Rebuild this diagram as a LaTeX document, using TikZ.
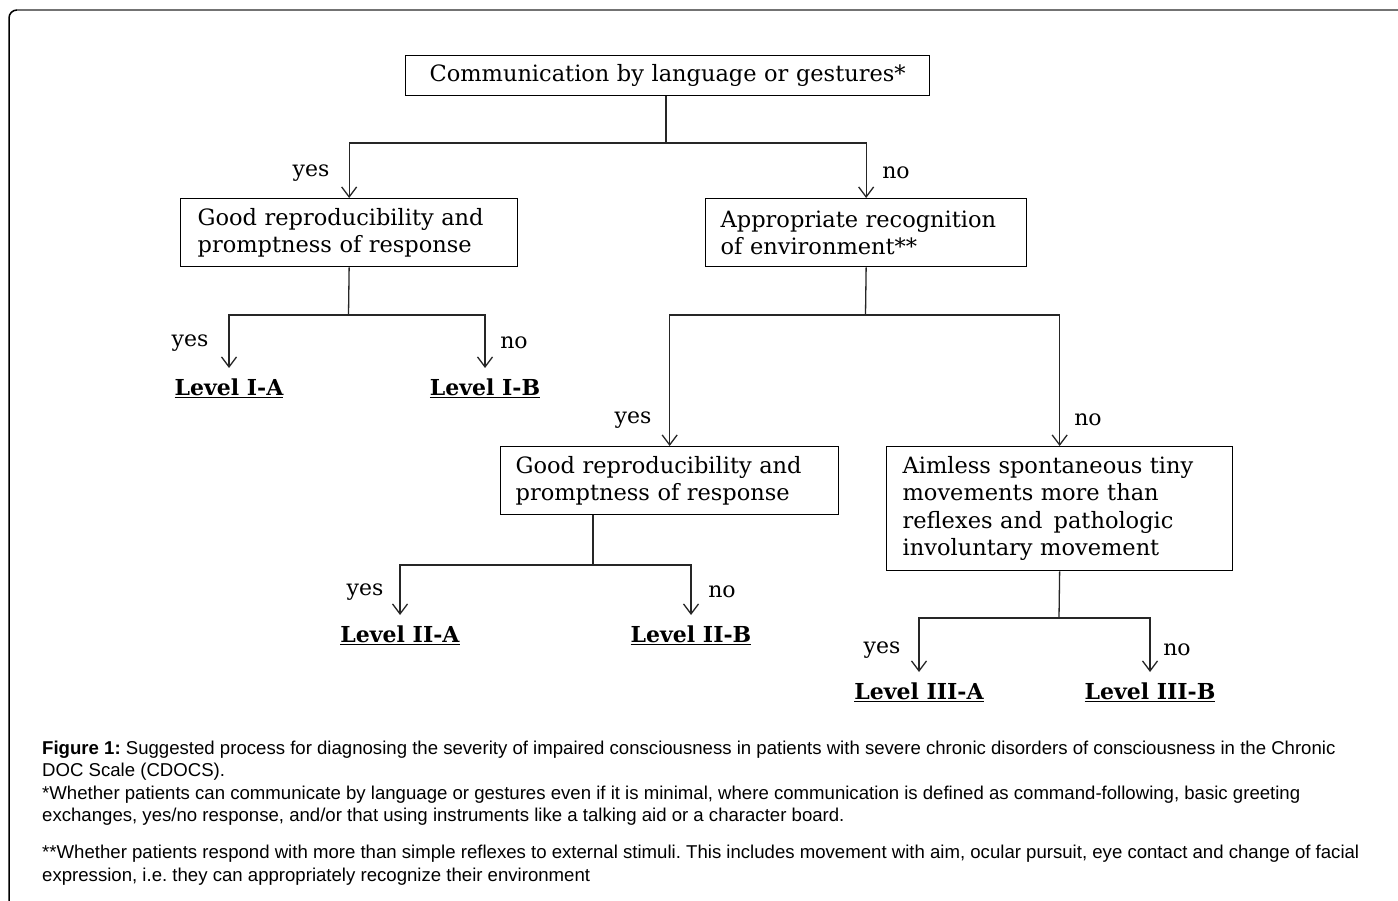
\documentclass[tikz,border=0pt]{standalone}
\usepackage{fontspec}
\setmainfont{DejaVu Serif}
\newfontfamily\capfont{Liberation Sans}
\usetikzlibrary{arrows.meta,calc}
\frenchspacing
\tikzset{
  box/.style={draw=black, line width=1.3pt, anchor=north west, align=left,
    font=\fontsize{22.5}{27.5}\selectfont, inner ysep=0pt},
  conn/.style={draw=black!85, line width=1.3pt},
  arr/.style={conn, -{Straight Barb[length=10pt,width=15pt,line width=1.3pt]}},
  lab/.style={font=\fontsize{22}{24}\selectfont, inner sep=0pt},
  level/.style={font=\bfseries\fontsize{22}{24}\selectfont, anchor=north, inner xsep=0pt, inner ysep=0pt, outer xsep=0pt, outer ysep=11pt}
}
\begin{document}
\begin{tikzpicture}[x=1pt,y=-1pt]
\fill[white] (0,0) rectangle (1398,901);
\useasboundingbox (0,0) rectangle (1398,901);
% frame
\draw[line width=1.5pt, black, rounded corners=8pt] (9,901) |- (60,10);
\draw[line width=2pt, black!55] (17,10) -- (1398,10);

% boxes
\node[box, align=center, minimum width=524pt, minimum height=40pt, text width=500pt] (b1) at (405,55) {Communication by language or gestures*};
\node[box, minimum width=337pt, minimum height=68pt, inner xsep=17pt, text width=303pt] (b2) at (180,198) {\mbox{Good reproducibility and}\\\mbox{promptness of response}};
\node[box, minimum width=321pt, minimum height=68pt, inner xsep=15pt, text width=291pt] (b3) at (705,198) {\mbox{Appropriate recognition}\\\mbox{of environment**}};
\node[box, minimum width=338pt, minimum height=68pt, inner xsep=15pt, text width=308pt] (b4) at (500,446) {\mbox{Good reproducibility and}\\\mbox{promptness of response}};
\node[box, minimum width=346pt, minimum height=124pt, inner xsep=16pt, text width=314pt] (b5) at (886,446) {\mbox{Aimless spontaneous tiny}\\\mbox{movements more than}\\\mbox{reflexes and\, pathologic}\\\mbox{involuntary movement}};

% level nodes (north = arrow tip)
\node[level] (l1a) at (229,368) {\underline{Level I-A}};
\node[level] (l1b) at (485,368) {\underline{Level I-B}};
\node[level] (l2a) at (400,615) {\underline{Level II-A}};
\node[level] (l2b) at (691,615) {\underline{Level II-B}};
\node[level] (l3a) at (919,672) {\underline{Level III-A}};
\node[level] (l3b) at (1150,672) {\underline{Level III-B}};

% junctions
\coordinate (j1) at (666,143);
\coordinate (j2) at (348.5,315);
\coordinate (j3) at (865.5,315);
\coordinate (j4) at (593,565);
\coordinate (j5) at (1059,618);

\draw[conn] (b1.south -| j1) -- (j1);
\draw[arr] (j1) -| (b2.north);
\draw[arr] (j1) -| (b3.north);

\draw[conn] (b2.south) -- (j2);
\draw[arr] (j2) -| (l1a.north);
\draw[arr] (j2) -| (l1b.north);

\draw[conn] (b3.south) -- (j3);
\draw[arr] (j3) -| (b4.north);
\draw[arr] (j3) -| (b5.north);

\draw[conn] (b4.south -| j4) -- (j4);
\draw[arr] (j4) -| (l2a.north);
\draw[arr] (j4) -| (l2b.north);

\draw[conn] (b5.south) -- (j5);
\draw[arr] (j5) -| (l3a.north);
\draw[arr] (j5) -| (l3b.north);

% yes/no labels
\node[lab] (y1) at (311,173) {yes};
\node[lab] (n1) at (896,173) {no};
\node[lab] (y2) at (190,343) {yes};
\node[lab] (n2) at (514,343) {no};
\node[lab] (y3) at (633,420) {yes};
\node[lab] (n3) at (1088,420) {no};
\node[lab] (y4) at (365,592) {yes};
\node[lab] (n4) at (722,592) {no};
\node[lab] (y5) at (882,650) {yes};
\node[lab] (n5) at (1177,650) {no};

% caption
\node[anchor=north west, inner sep=0pt, align=left, font=\capfont\fontsize{18.6}{22.3}\selectfont] (cap) at (42,741) {%
\textbf{Figure 1:} Suggested process for diagnosing the severity of impaired consciousness in patients with severe chronic disorders of consciousness in the Chronic\\
DOC Scale (CDOCS).\\
*Whether patients can communicate by language or gestures even if it is minimal, where communication is defined as command-following, basic greeting\\
exchanges, yes/no response, and/or that using instruments like a talking aid or a character board.\\[15pt]
**Whether patients respond with more than simple reflexes to external stimuli. This includes movement with aim, ocular pursuit, eye contact and change of facial\\
expression, i.e. they can appropriately recognize their environment};
\end{tikzpicture}
\end{document}
